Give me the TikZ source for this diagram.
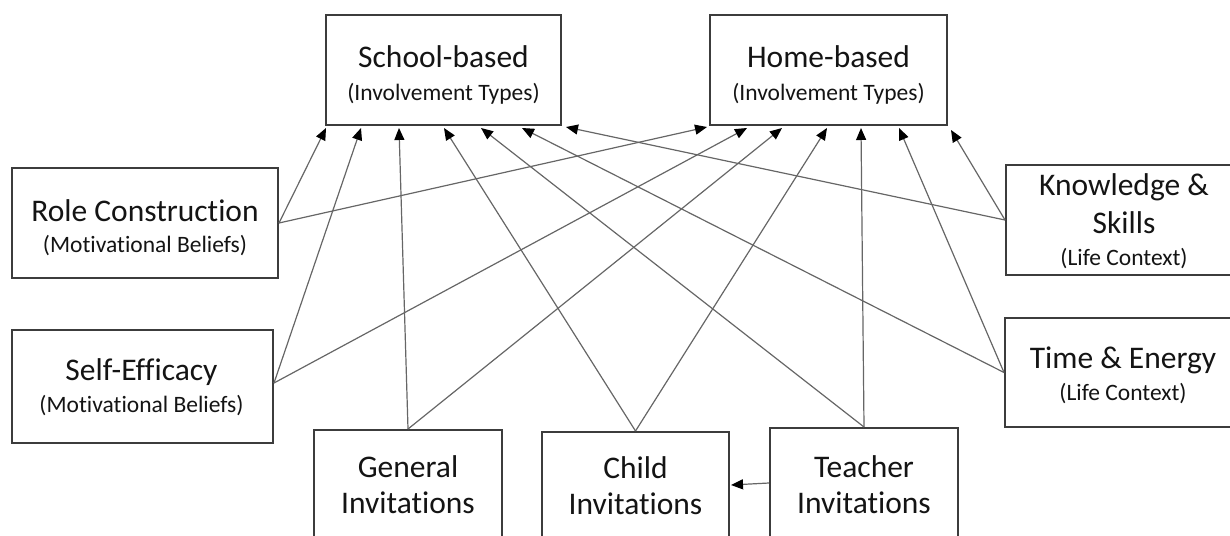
\documentclass[tikz,border=0pt]{standalone}
\usepackage{fontspec}
\setmainfont{Carlito}[Ligatures=NoCommon]
\usetikzlibrary{arrows.meta}
\definecolor{boxgray}{HTML}{3C3C3C}
\definecolor{linegray}{HTML}{666666}
\definecolor{txt}{HTML}{141414}
\newcommand{\titlefnt}{\fontsize{31.5}{36}\selectfont}
\newcommand{\subfnt}{\fontsize{23.5}{28}\selectfont}
\begin{document}
\begin{tikzpicture}[x=1pt,y=-1pt,
  box/.style={draw=boxgray, line width=2pt, fill=white, inner sep=0pt},
  ttl/.style={anchor=base, inner sep=0pt, font=\titlefnt, text=txt},
  sbt/.style={anchor=base, inner sep=0pt, font=\subfnt, text=txt},
  link/.style={draw=linegray, line width=1.2pt, -{Triangle[length=12pt,width=10pt,color=black]}},
]
\useasboundingbox (0,0) rectangle (1230,535);
\clip (0,0) rectangle (1230,535);

% boxes
\node[box, minimum width=235pt, minimum height=110pt] (school) at (443.5,70) {};
\node[box, minimum width=237pt, minimum height=110pt] (home) at (828.5,70) {};
\node[box, minimum width=266pt, minimum height=110pt] (role) at (145,223) {};
\node[box, minimum width=261pt, minimum height=113pt] (self) at (142.5,386.5) {};
\node[box, minimum width=236pt, minimum height=110pt] (know) at (1124,220) {};
\node[box, minimum width=236pt, minimum height=109pt] (time) at (1123,372.5) {};
\node[box, minimum width=188pt, minimum height=108pt] (general) at (408,484) {};
\node[box, minimum width=187pt, minimum height=106pt] (child) at (635.5,485) {};
\node[box, minimum width=188pt, minimum height=110pt] (teacher) at (864,483) {};

% texts
\node[ttl] at ([yshift=3pt]school.center) {School-based};
\node[sbt] at ([yshift=-30pt]school.center) {(Involvement Types)};
\node[ttl] at ([yshift=3pt]home.center) {Home-based};
\node[sbt] at ([yshift=-30pt]home.center) {(Involvement Types)};
\node[ttl] at ([yshift=2pt]role.center) {Role Construction};
\node[sbt] at ([yshift=-29pt]role.center) {(Motivational Beliefs)};
\node[ttl] at ([xshift=-1pt,yshift=6.5pt]self.center) {Self-Efficacy};
\node[sbt] at ([xshift=-1pt,yshift=-25.5pt]self.center) {(Motivational Beliefs)};
\node[ttl] at ([yshift=25pt]know.center) {Knowledge \&};
\node[ttl] at ([yshift=-13pt]know.center) {Skills};
\node[sbt] at ([yshift=-45pt]know.center) {(Life Context)};
\node[ttl] at ([yshift=4.5pt]time.center) {Time \& Energy};
\node[sbt] at ([yshift=-27.5pt]time.center) {(Life Context)};
\node[ttl] at ([yshift=7pt]general.center) {General};
\node[ttl] at ([yshift=-29pt]general.center) {Invitations};
\node[ttl] at ([yshift=7pt]child.center) {Child};
\node[ttl] at ([yshift=-29pt]child.center) {Invitations};
\node[ttl] at ([yshift=6pt]teacher.center) {Teacher};
\node[ttl] at ([yshift=-30pt]teacher.center) {Invitations};

% connectors to School-based
\draw[link] (role.east) -- ([xshift=1pt,yshift=-2pt]school.south west);
\draw[link] ([yshift=3.5pt]self.east) -- ([xshift=36pt,yshift=-2pt]school.south west);
\draw[link] (general.north) -- ([xshift=74pt,yshift=-2pt]school.south west);
\draw[link] (child.north) -- ([xshift=119pt,yshift=-2pt]school.south west);
\draw[link] (teacher.north) -- ([xshift=156pt,yshift=-2pt]school.south west);
\draw[link] (time.west) -- ([xshift=197pt,yshift=-2pt]school.south west);
\draw[link] (know.west) -- ([xshift=241pt,yshift=-1pt]school.south west);

% connectors to Home-based
\draw[link] (role.east) -- ([xshift=-2pt,yshift=-1pt]home.south west);
\draw[link] ([yshift=3.5pt]self.east) -- ([xshift=38pt,yshift=-2pt]home.south west);
\draw[link] (general.north) -- ([xshift=73pt,yshift=-2pt]home.south west);
\draw[link] (child.north) -- ([xshift=118pt,yshift=-2pt]home.south west);
\draw[link] (teacher.north) -- ([xshift=152pt,yshift=-2pt]home.south west);
\draw[link] (time.west) -- ([xshift=190pt,yshift=-2pt]home.south west);
\draw[link] (know.west) -- ([xshift=242pt,yshift=-4pt]home.south west);

% teacher -> child
\draw[link] (teacher.west) -- ([xshift=1pt]child.east);
\end{tikzpicture}
\end{document}
